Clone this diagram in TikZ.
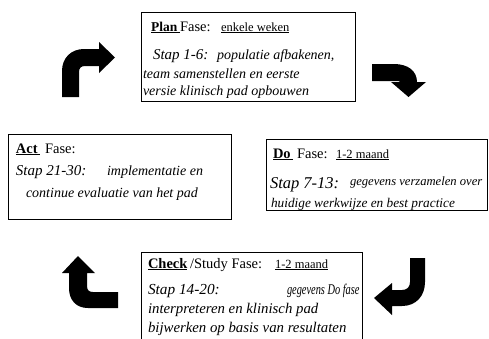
\documentclass[tikz,border=0pt]{standalone}
\usepackage{fontspec}
\setmainfont{Liberation Serif}
\begin{document}
\begin{tikzpicture}[x=1pt,y=-1pt,
  box/.style={draw=black,line width=0.8pt},
  txt/.style={anchor=base west,inner sep=0pt,outer sep=0pt},
  hd/.style={txt,font=\fontsize{14.5}{16}\selectfont},
  hdb/.style={txt,font=\fontsize{14.5}{16}\selectfont\bfseries},
  dt/.style={txt,font=\fontsize{12.5}{14}\selectfont},
  stap/.style={txt,font=\fontsize{15}{17}\selectfont\itshape},
  bd/.style={txt,font=\fontsize{14}{16}\selectfont\itshape},
  arr/.style={fill=black,draw=none}]
\useasboundingbox (0,0) rectangle (489,338);
% boxes
\draw[box] (141,12) rectangle (355,101);
\draw[box] (8,134) rectangle (231,219);
\draw[box] (266,139) rectangle (487,210);
\draw[box] (141,340) -- (141,252) -- (362,252) -- (362,340);
% Plan
\node[hdb,font=\fontsize{13.5}{16}\selectfont\bfseries] (p1) at (151,31) {\underline{Plan\,}};
\node[hd] (p2) at (180,31) {Fase:};
\node[dt] (p3) at (221,31) {\underline{enkele weken}};
\node[stap] (p4) at (153,59) {Stap 1-6:};
\node[bd] (p5) at (217,59) {populatie afbakenen,};
\node[bd] (p6) at (143,78) {team samenstellen en eerste};
\node[bd] (p7) at (143,95) {versie klinisch pad opbouwen};
% Act
\node[hdb] (a1) at (16,153) {\underline{Act\,}};
\node[hd] (a2) at (45,153) {Fase:};
\node[stap] (a3) at (16,175) {Stap 21-30:};
\node[bd] (a4) at (107,175) {implementatie en};
\node[bd] (a5) at (26,197) {continue evaluatie van het pad};
% Do
\node[hdb] (d1) at (273,158) {\underline{Do\,}};
\node[hd] (d2) at (297,158) {Fase:};
\node[dt] (d3) at (336,158) {\underline{1-2 maand}};
\node[stap,font=\fontsize{16.5}{18}\selectfont\itshape] (d4) at (270,188) {Stap 7-13:};
\node[bd,font=\fontsize{12.6}{15}\selectfont\itshape] (d5) at (350,185) {gegevens verzamelen over};
\node[bd,font=\fontsize{13.3}{15}\selectfont\itshape] (d6) at (271,207) {huidige werkwijze en best practice};
% Check
\node[hdb] (c1) at (148,268) {\underline{Check}};
\node[hd] (c2) at (190,268) {/Study Fase:};
\node[dt] (c3) at (275,268) {\underline{1-2 maand}};
\node[stap,font=\fontsize{15.3}{17}\selectfont\itshape] (c4) at (148,294) {Stap 14-20:};
\node[bd,font=\fontsize{14.8}{17}\selectfont\itshape] (c5) at (287,294) {\scalebox{0.7}[1]{gegevens Do fase}};
\node[bd,font=\fontsize{14.8}{17}\selectfont\itshape] (c6) at (148,313) {interpreteren en klinisch pad};
\node[bd,font=\fontsize{14.8}{17}\selectfont\itshape] (c7) at (148,332) {bijwerken op basis van resultaten};
% arrows
\fill[arr] (62,97) -- (62,71) .. controls (62,58) and (71,49) .. (84,49) -- (99,49) -- (99,42) -- (115,57.5) -- (99,73) -- (99,66) -- (85,66) .. controls (81,66) and (79,68) .. (79,72) -- (79,97) -- cycle;
\fill[arr] (372,64) -- (394,64) .. controls (408,64) and (417,71) .. (417,82) -- (426,82) -- (408.5,97) -- (391,82) -- (400,82) .. controls (400,81.5) and (399,81) .. (397,81) -- (372,81) -- cycle;
\fill[arr] (425,258) -- (425,282) .. controls (425,296) and (416,306) .. (402,306) -- (392,306) -- (392,315) -- (374,298) -- (392,283) -- (392,290) -- (402,290) .. controls (407,290) and (410,287) .. (410,282) -- (410,258) -- cycle;
\fill[arr] (62,273) -- (78,256) -- (95,273) -- (87,273) -- (87,286) .. controls (87,290) and (89,292) .. (93,292) -- (118,292) -- (118,308) -- (88,308) .. controls (76,308) and (69,300) .. (69,288) -- (69,273) -- cycle;
\end{tikzpicture}
\end{document}
